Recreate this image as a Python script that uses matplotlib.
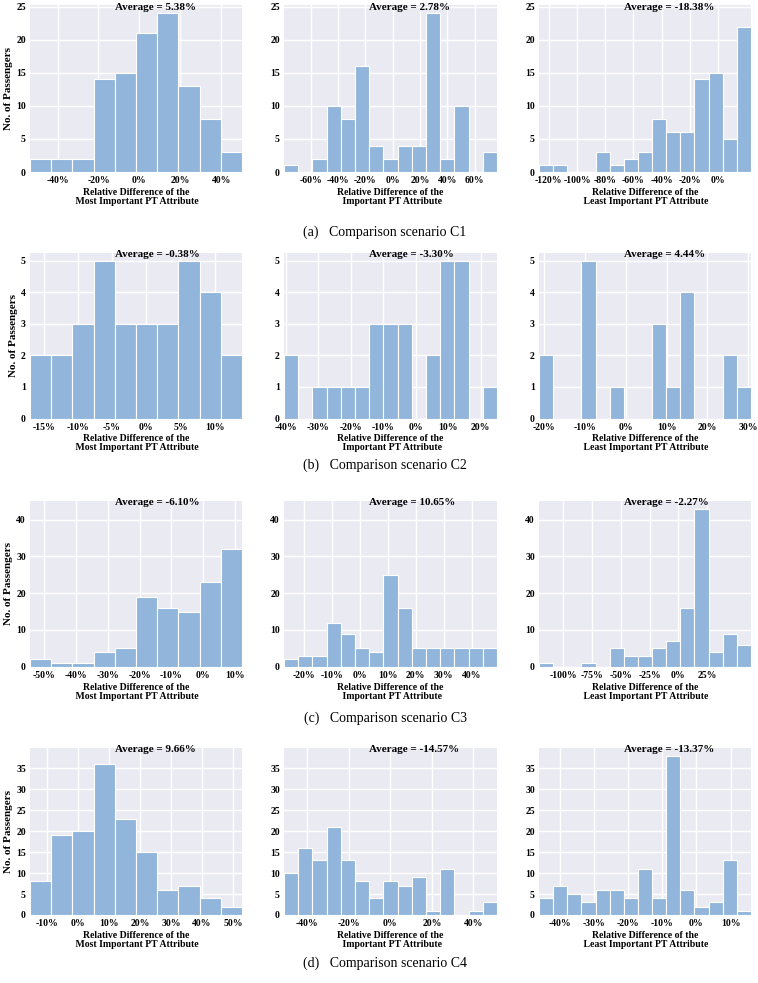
import numpy as np
import matplotlib
matplotlib.use("Agg")
import matplotlib.pyplot as plt
from matplotlib.ticker import FuncFormatter

# ---------------- data ----------------
counts = [
    [2, 2, 2, 14, 15, 21, 24, 13, 8, 3],
    [1, 0, 2, 10, 8, 16, 4, 2, 4, 4, 24, 2, 10, 0, 3],
    [1, 1, 0, 0, 3, 1, 2, 3, 8, 6, 6, 14, 15, 5, 22],
    [2, 2, 3, 5, 3, 3, 3, 5, 4, 2],
    [2, 0, 1, 1, 1, 1, 3, 3, 3, 0, 2, 5, 5, 0, 1],
    [2, 0, 0, 5, 0, 1, 0, 0, 3, 1, 4, 0, 0, 2, 1],
    [2, 1, 1, 4, 5, 19, 16, 15, 23, 32],
    [2, 3, 3, 12, 9, 5, 4, 25, 16, 5, 5, 5, 5, 5, 5],
    [1, 0, 0, 1, 0, 5, 3, 3, 5, 7, 16, 43, 4, 9, 6],
    [8, 19, 20, 36, 23, 15, 6, 7, 4, 2],
    [10, 16, 13, 21, 13, 8, 4, 8, 7, 9, 1, 11, 0, 1, 3],
    [4, 7, 5, 3, 6, 6, 4, 11, 4, 38, 6, 2, 3, 13, 1],
]
# data range (min, max) of relative difference, in %
x_min = [-53.5, -79.6, -127.0, -17.0, -40.5, -21.3, -54.4, -27.0, -121.0, -15.4, -51.0, -46.1]
x_max = [50.2, 76.4, 23.5, 14.0, 25.0, 30.7, 12.2, 49.0, 63.0, 52.9, 51.3, 16.0]
averages = ["5.38%", "2.78%", "-18.38%", "-0.38%", "-3.30%", "4.44%",
            "-6.10%", "10.65%", "-2.27%", "9.66%", "-14.57%", "-13.37%"]
x_ticks = [
    [-40, -20, 0, 20, 40],
    [-60, -40, -20, 0, 20, 40, 60],
    [-120, -100, -80, -60, -40, -20, 0],
    [-15, -10, -5, 0, 5, 10],
    [-40, -30, -20, -10, 0, 10, 20],
    [-20, -10, 0, 10, 20, 30],
    [-50, -40, -30, -20, -10, 0, 10],
    [-20, -10, 0, 10, 20, 30, 40],
    [-100, -75, -50, -25, 0, 25],
    [-10, 0, 10, 20, 30, 40, 50],
    [-40, -20, 0, 20, 40],
    [-40, -30, -20, -10, 0, 10],
]
y_ticks = [[0, 5, 10, 15, 20, 25], [0, 1, 2, 3, 4, 5],
           [0, 10, 20, 30, 40], [0, 5, 10, 15, 20, 25, 30, 35]]
attributes = ["Most Important PT Attribute", "Important PT Attribute",
              "Least Important PT Attribute"]
captions = ["(a)   Comparison scenario C1", "(b)   Comparison scenario C2",
            "(c)   Comparison scenario C3", "(d)   Comparison scenario C4"]
y_label = "No. of Passengers"

# ---------------- layout ----------------
W, H = 758, 983
fig = plt.figure(figsize=(W / 100, H / 100), dpi=100)
col_x = [(30, 242), (284, 497), (539, 751)]
row_y = [(5.4, 172), (253, 418.5), (500.7, 666.7), (747.7, 915)]
caption_y = [232, 465, 718, 963]

serif = ["Liberation Serif", "DejaVu Serif"]
bar_color = "#92b6db"
bg = "#eaeaf2"

pct = FuncFormatter(lambda v, p: f"{v:.0f}%")

for r in range(4):
    row_max = max(max(counts[r * 3 + c]) for c in range(3))
    for c in range(3):
        i = r * 3 + c
        x0, x1 = col_x[c]
        yt, yb = row_y[r]
        ax = fig.add_axes([x0 / W, 1 - yb / H, (x1 - x0) / W, (yb - yt) / H])
        ax.set_facecolor(bg)
        n = len(counts[i])
        edges = np.linspace(x_min[i], x_max[i], n + 1)
        centers = (edges[:-1] + edges[1:]) / 2
        ax.hist(centers, bins=edges, weights=counts[i], color=bar_color,
                edgecolor="white", linewidth=0.8, zorder=2)
        ax.set_xlim(edges[0], edges[-1])
        ax.set_ylim(0, row_max * 1.05)
        ax.set_xticks(x_ticks[i])
        ax.xaxis.set_major_formatter(pct)
        ax.set_yticks(y_ticks[r])
        ax.grid(True, color="white", linewidth=1.0, zorder=0)
        ax.set_axisbelow(True)
        for s in ax.spines.values():
            s.set_visible(False)
        ax.tick_params(length=0, pad=3, labelsize=7)
        for lab in ax.get_xticklabels() + ax.get_yticklabels():
            lab.set_fontfamily(serif)
            lab.set_fontweight("bold")
        ax.set_xlabel("Relative Difference of the\n " + attributes[c],
                      fontsize=7, fontweight="bold", family=serif,
                      labelpad=2, linespacing=1.0)
        if c == 0:
            ax.set_ylabel(y_label, fontsize=8, fontweight="bold",
                          family=serif, labelpad=2)
        ax.text(0.4, 0.99, "Average = " + averages[i], transform=ax.transAxes,
                ha="left", va="center", fontsize=8, fontweight="bold",
                family=serif, zorder=5)
    fig.text(385 / W, 1 - caption_y[r] / H, captions[r], ha="center",
             va="center", fontsize=10, family=serif)

fig.savefig("out.png", dpi=100, facecolor="white")
